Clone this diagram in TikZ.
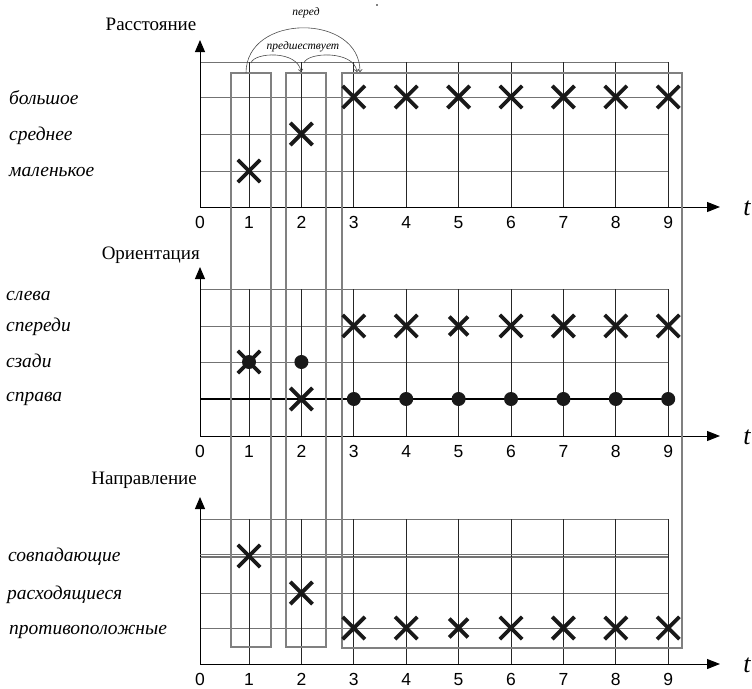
\documentclass[tikz,border=0pt]{standalone}
\usepackage{fontspec}
\setmainfont{Liberation Serif}
\newfontfamily\digitfont{Liberation Sans}
\usetikzlibrary{arrows.meta,shapes.misc}

\tikzset{
  gridline/.style={draw=black!55, line width=0.9pt},
  colline/.style={draw=black!85, line width=0.8pt},
  boxline/.style={draw=black!50, line width=1.1pt},
  axisline/.style={draw=black, line width=1pt},
  yarrow/.style={-{Triangle[length=12pt,width=10pt]}},
  xarrow/.style={-{Triangle[length=13pt,width=10pt]}},
  head/.style={font=\fontsize{19}{22}\selectfont, inner sep=0pt},
  lab/.style={font=\fontsize{19.5}{22}\selectfont\itshape, anchor=west, inner sep=0pt},
  num/.style={font=\digitfont\fontsize{17.5}{19}\selectfont, inner sep=0pt},
  tlab/.style={font=\fontsize{26}{28}\selectfont\itshape, inner sep=0pt},
  relab/.style={font=\fontsize{11.5}{12}\selectfont\itshape, inner sep=0pt},
  relarc/.style={draw=black!70, line width=0.6pt, -{To[length=3pt,width=5pt]}},
  xmark/.style={cross out, draw=black!90, line width=3.8pt, minimum size=18.5pt, inner sep=0pt},
  smallx/.style={xmark, minimum size=15pt},
  dotmark/.style={circle, fill=black!90, minimum size=14pt, inner sep=0pt},
}

% one panel: name, axis y, top line y, inner line ys
\newcommand\drawpanel[4]{%
  \foreach \r in {#3,#4} \draw[gridline] (200,\r) -- (668.2,\r);
  \foreach \i in {1,...,9} {%
    \pgfmathsetmacro\cx{249+(\i-1)*52.4}
    \draw[colline] (\cx,#3) -- (\cx,#2);
    \node[num] (#1-n\i) at (\cx,#2+15.5) {\i};
  }
  \coordinate (#1-o) at (200,#2);
  \coordinate (#1-ytip) at (200,#3-22);
  \coordinate (#1-xtip) at (720,#2);
  \draw[axisline,yarrow] (#1-o) -- (#1-ytip);
  \draw[axisline,xarrow] (#1-o) -- (#1-xtip);
  \node[num] (#1-zero) at (200,#2+15.5) {0};
  \node[tlab] (#1-t) at (747,#2+1) {t};
}

\begin{document}
\begin{tikzpicture}[x=1pt,y=-1pt]
\useasboundingbox (0,0) rectangle (752,688);

% --- grids and axes
\drawpanel{dist}{207}{62}{97,134,171}
\drawpanel{ori}{436}{289}{326,362,399}
\drawpanel{dir}{664}{519}{556,593,628}

% special rows
\draw[draw=black, line width=1.6pt] (200,399) -- (668.2,399);
\draw[gridline] (200,554.5) -- (668.2,554.5);
\draw[gridline] (200,557.5) -- (668.2,557.5);

% --- time-slot frames
\draw[boxline] (231,73) rectangle (271,647);
\draw[boxline] (286,73) rectangle (326,647);
\draw[boxline] (342,73) rectangle (682,648);

% --- panel titles
\node[head] (h-dist) at (151,24) {Расстояние};
\node[head, anchor=east] (h-ori) at (200,255) {Ориентация};
\node[head, anchor=east] (h-dir) at (197,480) {Направление};

% --- row labels
\node[lab] (l-big) at (9,98) {большое};
\node[lab] (l-mid) at (9,136) {среднее};
\node[lab] (l-small) at (9,172) {маленькое};
\node[lab] (l-left) at (6,296) {слева};
\node[lab] (l-front) at (6,327) {спереди};
\node[lab] (l-back) at (6,361) {сзади};
\node[lab] (l-right) at (6,399) {справа};
\node[lab] (l-same) at (8,557) {совпадающие};
\node[lab] (l-div) at (7,595) {расходящиеся};
\node[lab] (l-opp) at (9,632) {противоположные};

% --- relations between slots
\coordinate (s1) at (251,63);
\coordinate (e1) at (301,72);
\coordinate (s2) at (304,63);
\coordinate (e2) at (357,72);
\coordinate (s3) at (246,73);
\coordinate (e3) at (360,72);
\draw[relarc] (s1) .. controls (254,52) and (298,50) .. (e1);
\draw[relarc] (s2) .. controls (307,52) and (354,50) .. (e2);
\draw[relarc] (s3) .. controls (246,13) and (360,13) .. (e3);
\node[relab] (r-before) at (306,13) {перед};
\node[relab] (r-prec) at (303,47) {предшествует};
\fill (377,5) circle (0.8pt);

% --- distance marks
\node[xmark] (d1) at (249,171) {};
\node[xmark] (d2) at (301.4,134) {};
\foreach \i in {3,...,9} {
  \pgfmathsetmacro\cx{249+(\i-1)*52.4}
  \node[xmark] (d\i) at (\cx,97) {};
}

% --- orientation marks
\node[dotmark] (o1d) at (249,362) {};
\node[xmark] (o1) at (249,362) {};
\node[dotmark] (o2d) at (301.4,362) {};
\node[xmark] (o2) at (301.4,399) {};
\foreach \i in {3,...,9} {
  \pgfmathsetmacro\cx{249+(\i-1)*52.4}
  \ifnum\i=5
    \node[smallx] (o\i) at (\cx,326) {};
  \else
    \node[xmark] (o\i) at (\cx,326) {};
  \fi
  \node[dotmark] (o\i d) at (\cx,399) {};
}

% --- direction marks
\node[xmark] (r1) at (249,556) {};
\node[xmark] (r2) at (301.4,593) {};
\foreach \i in {3,...,9} {
  \pgfmathsetmacro\cx{249+(\i-1)*52.4}
  \ifnum\i=5
    \node[smallx] (r\i) at (\cx,628) {};
  \else
    \node[xmark] (r\i) at (\cx,628) {};
  \fi
}
\end{tikzpicture}
\end{document}
